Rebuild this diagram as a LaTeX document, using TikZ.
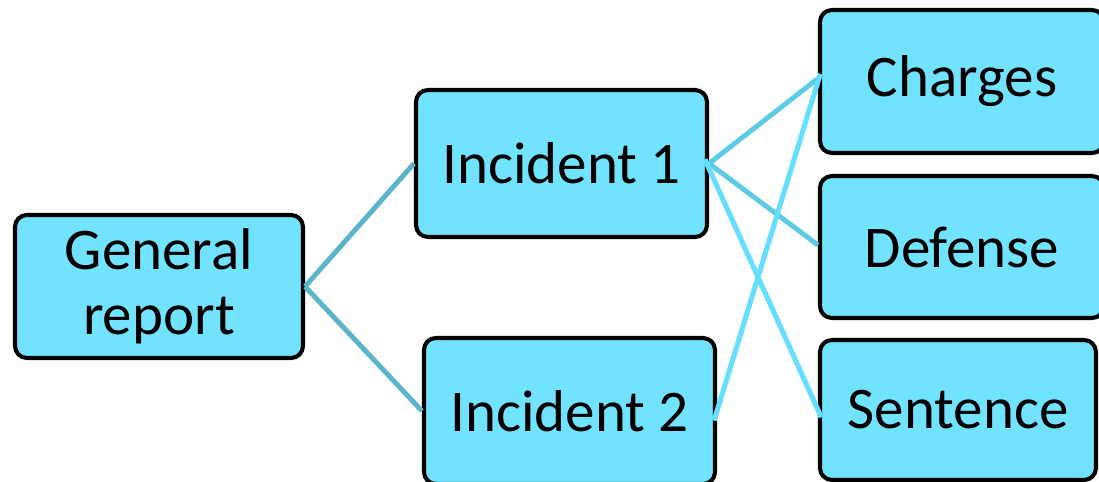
\documentclass[tikz,border=0pt]{standalone}
\usepackage{fontspec}
\setmainfont{Carlito}
\usepackage{tikz}
\usetikzlibrary{positioning}
\definecolor{boxfill}{HTML}{71E3FF}
\definecolor{darklink}{HTML}{5AB5CC}
\definecolor{midlink}{HTML}{5CCCE6}
\definecolor{lightlink}{HTML}{66DEFF}
\tikzset{
  box/.style={draw=black, fill=boxfill, line width=1.15pt, rounded corners=3.4pt,
    align=center, inner sep=0pt, font=\fontsize{16.8}{18.5}\selectfont},
  dlink/.style={draw=darklink, line width=1.4pt},
  mlink/.style={draw=midlink, line width=1.4pt},
  llink/.style={draw=lightlink, line width=1.45pt, shorten <=-0.1cm, shorten >=-0.08cm}
}
\begin{document}
\begin{tikzpicture}
  \useasboundingbox (0,0) rectangle (10.99,-4.82);
  \coordinate (G) at (1.59,-2.865);
  \coordinate (I1) at (5.615,-1.635);
  \coordinate (I2) at (5.695,-4.11);
  \coordinate (C) at (9.62,-0.815);
  \coordinate (D) at (9.62,-2.47);
  \coordinate (S) at (9.58,-4.10);

  \node[box, minimum width=2.88cm, minimum height=1.43cm] (general) at (G) {General\\report};
  \node[box, minimum width=2.91cm, minimum height=1.47cm] (inc1) at (I1) {Incident 1};
  \node[box, minimum width=2.91cm, minimum height=1.46cm] (inc2) at (I2) {Incident 2};
  \node[box, minimum width=2.84cm, minimum height=1.43cm] (charges) at (C) {Charges};
  \node[box, minimum width=2.84cm, minimum height=1.42cm] (defense) at (D) {Defense};
  \node[box, minimum width=2.76cm, minimum height=1.40cm] (sentence) at (S) {Sentence};

  \draw[dlink] (general.east) -- (inc1.west);
  \draw[dlink] (general.east) -- (inc2.west);
  \draw[mlink] (inc1.east) -- ([yshift=0.03cm]charges.west);
  \draw[mlink] (inc1.east) -- ([yshift=0.02cm]defense.west);
  \draw[llink] ([yshift=-0.05cm]inc1.east) -- (sentence.west);
  \draw[llink] (inc2.east) -- (charges.west);
\end{tikzpicture}
\end{document}
